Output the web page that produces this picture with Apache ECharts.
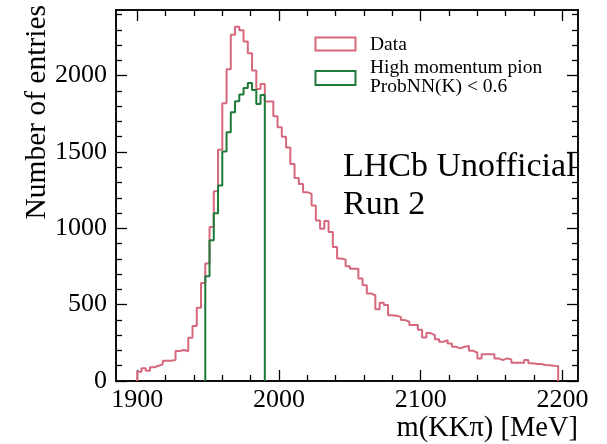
<!DOCTYPE html>
<html>
<head>
<meta charset="utf-8">
<script src="https://cdn.jsdelivr.net/npm/echarts@6/dist/echarts.min.js"></script>
<style>
  html, body { margin: 0; padding: 0; background: #fff; }
  #chart { width: 607px; height: 444px; }
</style>
</head>
<body>
<div id="chart"></div>
<script>
// Histogram binning: 3 MeV bins starting at 1900 MeV
const binStart = 1900;
const binWidth = 3;

// Entries per bin, full data sample (99 bins, 1900-2197 MeV)
const dataCounts = [
  61, 83, 67, 90, 100, 109, 133, 133, 137, 196,
  203, 195, 283, 361, 479, 642, 769, 1008, 1243, 1514,
  1819, 2042, 2268, 2320, 2298, 2224, 2146, 2033, 1913, 1946,
  1830, 1830, 1734, 1662, 1600, 1530, 1422, 1330, 1291, 1237,
  1226, 1150, 1052, 997, 1048, 976, 878, 802, 795, 752,
  736, 736, 671, 627, 573, 562, 470, 512, 497, 431,
  427, 420, 399, 388, 366, 366, 335, 285, 314, 301,
  273, 257, 268, 246, 224, 214, 224, 229, 198, 185,
  148, 176, 176, 176, 148, 137, 148, 141, 119, 119,
  119, 137, 116, 111, 111, 105, 103, 100, 98
];

// High momentum pion selection, ProbNN(K) < 0.6 (bins 16..29, 1948-1990 MeV)
const pionFirstBin = 16;
const pionCounts = [686, 922, 1098, 1281, 1503, 1630, 1760, 1832, 1876, 1919, 1952, 1906, 1815, 1874];

// Axis ranges and ticks
const xRange = [1885, 2211];
const yRange = [0, 2430];
const xMajorTicks = [1900, 2000, 2100, 2200];
const xMinorTicks = [1920, 1940, 1960, 1980, 2020, 2040, 2060, 2080, 2120, 2140, 2160, 2180];
const yMajorTicks = [0, 500, 1000, 1500, 2000];
const yMinorTicks = [100, 200, 300, 400, 600, 700, 800, 900, 1100, 1200, 1300, 1400,
                     1600, 1700, 1800, 1900, 2100, 2200, 2300, 2400];

const serif = "'Liberation Serif', 'Times New Roman', 'DejaVu Serif', serif";

// Turn bin counts into a closed step outline (histtype="step")
function stepOutline(counts, firstBin) {
  const pts = [[binStart + firstBin * binWidth, 0]];
  counts.forEach((c, k) => {
    const lo = binStart + (firstBin + k) * binWidth;
    pts.push([lo, c], [lo + binWidth, c]);
  });
  pts.push([binStart + (firstBin + counts.length) * binWidth, 0]);
  return pts;
}

const frameLine = { show: true, onZero: false, lineStyle: { color: '#000', width: 1.5 } };

function axisDef(range, position, ticks, len, labels, margin) {
  return {
    type: 'value', position, min: range[0], max: range[1],
    axisLine: frameLine,
    axisTick: { show: true, inside: true, length: len, customValues: ticks,
                lineStyle: { color: '#000', width: 1.3 } },
    axisLabel: labels
      ? { show: true, customValues: ticks, color: '#000', fontFamily: serif, fontSize: 26,
          margin, formatter: v => String(v) }
      : { show: false },
    splitLine: { show: false }
  };
}

const chart = echarts.init(document.getElementById('chart'), null, { renderer: 'canvas' });

const dataColor = '#d6687b';
const pionColor = '#1f7a3a';

chart.setOption({
  animation: false,
  backgroundColor: '#fff',
  grid: { left: 116, right: 29, top: 10, bottom: 63, containLabel: false },
  xAxis: [
    axisDef(xRange, 'bottom', xMajorTicks, 11, true, 6),
    axisDef(xRange, 'bottom', xMinorTicks, 6, false),
    axisDef(xRange, 'top', xMajorTicks, 11, false),
    axisDef(xRange, 'top', xMinorTicks, 6, false)
  ],
  yAxis: [
    axisDef(yRange, 'left', yMajorTicks, 11, true, 9),
    axisDef(yRange, 'left', yMinorTicks, 6, false),
    axisDef(yRange, 'right', yMajorTicks, 11, false),
    axisDef(yRange, 'right', yMinorTicks, 6, false)
  ],
  series: [
    {
      name: 'Data', type: 'line', xAxisIndex: 0, yAxisIndex: 0,
      data: stepOutline(dataCounts, 0), symbol: 'none', silent: true,
      lineStyle: { color: dataColor, width: 2 }, z: 3
    },
    {
      name: 'High momentum pion ProbNN(K) < 0.6', type: 'line', xAxisIndex: 0, yAxisIndex: 0,
      data: stepOutline(pionCounts, pionFirstBin), symbol: 'none', silent: true,
      lineStyle: { color: pionColor, width: 2 }, z: 4
    }
  ],
  graphic: [
    // y-axis title, top-aligned along the left edge
    { type: 'text', x: 37, y: 5, rotation: Math.PI / 2,
      style: { text: 'Number of entries', font: '29.5px ' + serif, fill: '#000',
               align: 'right', verticalAlign: 'middle' } },
    // x-axis title, right-aligned under the frame
    { type: 'text', x: 578, y: 429,
      style: { text: 'm(KKπ) [MeV]', font: '28.5px ' + serif, fill: '#000',
               align: 'right', verticalAlign: 'middle' } },
    // legend
    { type: 'rect', shape: { x: 315.5, y: 37.5, width: 40, height: 13 },
      style: { fill: 'none', stroke: dataColor, lineWidth: 2 } },
    { type: 'text', x: 370, y: 45,
      style: { text: 'Data', font: '19.5px ' + serif, fill: '#000', align: 'left', verticalAlign: 'middle' } },
    { type: 'rect', shape: { x: 315.5, y: 71, width: 40, height: 14 },
      style: { fill: 'none', stroke: pionColor, lineWidth: 2 } },
    { type: 'text', x: 370, y: 67.5,
      style: { text: 'High momentum pion', font: '19.5px ' + serif, fill: '#000', align: 'left', verticalAlign: 'middle' } },
    { type: 'text', x: 370, y: 87,
      style: { text: 'ProbNN(K) < 0.6', font: '19.5px ' + serif, fill: '#000', align: 'left', verticalAlign: 'middle' } },
    // experiment label
    { type: 'text', x: 343, y: 167,
      style: { text: 'LHCb Unofficial', font: '34px ' + serif, fill: '#000', align: 'left', verticalAlign: 'middle' } },
    { type: 'text', x: 343, y: 205.5,
      style: { text: 'Run 2', font: '34px ' + serif, fill: '#000', align: 'left', verticalAlign: 'middle' } }
  ]
});
</script>
</body>
</html>
